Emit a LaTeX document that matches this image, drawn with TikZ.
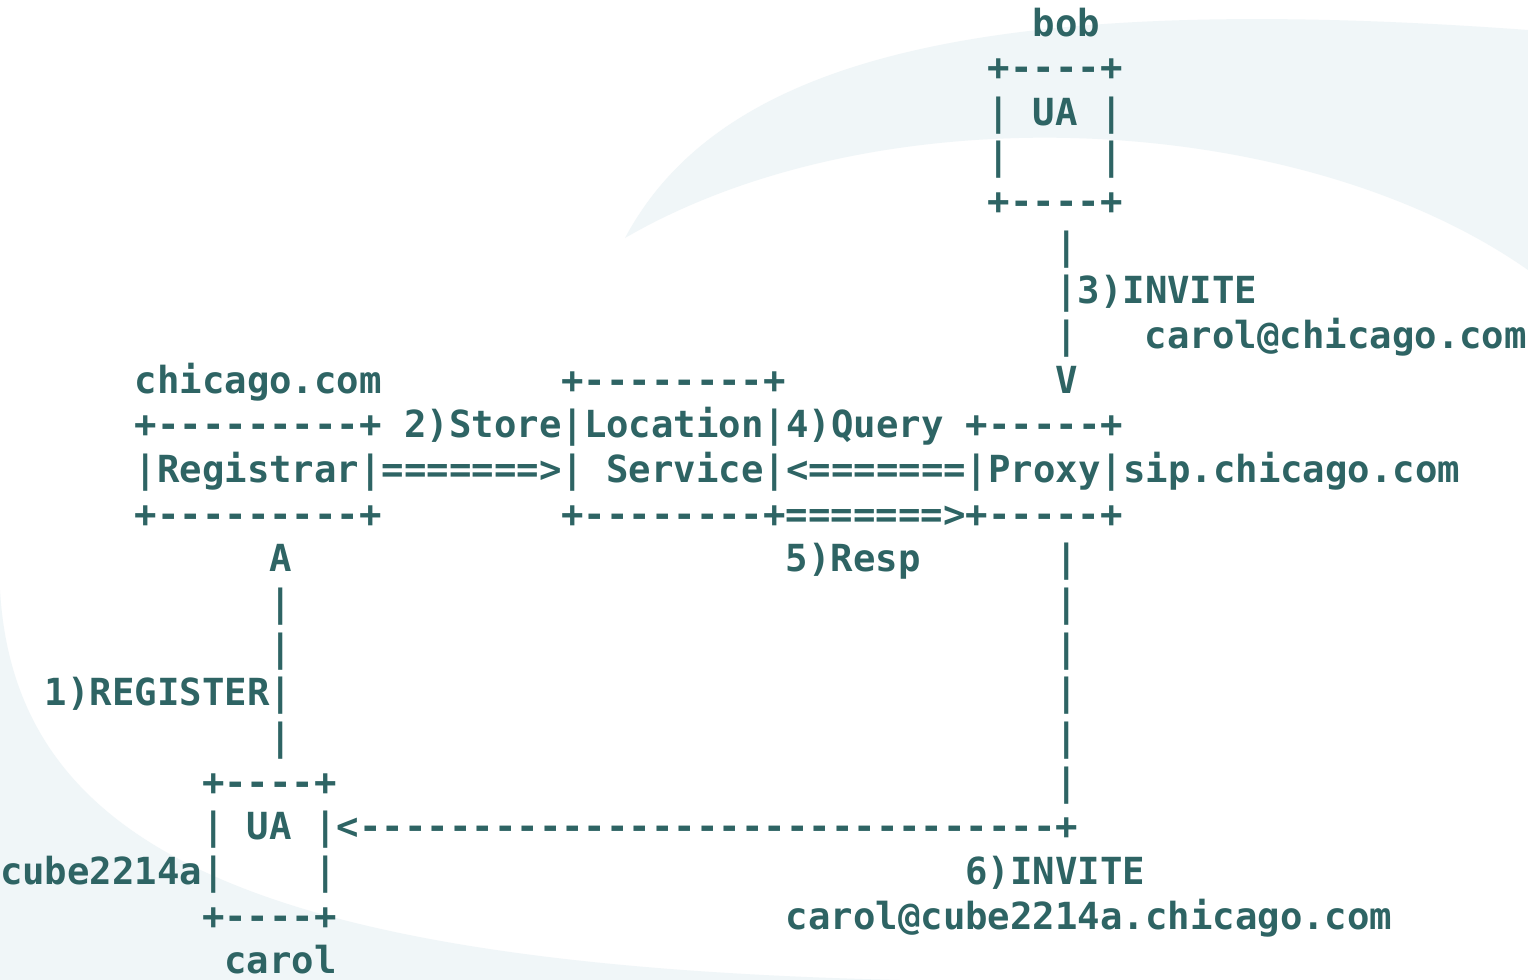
\documentclass[tikz,border=0pt]{standalone}
\usepackage{fontspec}
\setmonofont{DejaVu Sans Mono}
\definecolor{ink}{HTML}{2E6464}
\definecolor{swoosh}{HTML}{F0F6F8}

\begin{document}
\begin{tikzpicture}[x=0.5pt, y=-0.5pt,
    every node/.style={inner sep=0, outer sep=0, anchor=base west, text=ink,
      font=\ttfamily\bfseries\fontsize{18.66}{22}\selectfont}]
  \def\cw{22.45}  % one character cell
  \def\lh{44.65}  % one text line
  \def\base{36}
  \fill[white] (0,0) rectangle (1528,980);
  \useasboundingbox (0,0) rectangle (1528,980);
  % faint logo in the back
  \fill[swoosh] (625,238) .. controls (720,60) and (980,-10) .. (1528,30) -- (1528,270)
    .. controls (1300,110) and (880,90) .. cycle;
  \fill[swoosh] (0,590) .. controls (15,850) and (260,965) .. (900,980) -- (0,980) -- cycle;
  % the ascii chart, line by line
  \foreach \c/\r/\t in {46/0/bob, 44/1/+----+, 44/2/| UA |, 44/3/|, 49/3/|, 44/4/+----+,
      47/5/|, 47/6/|3)INVITE, 47/7/|, 51/7/carol@chicago.com,
      6/8/chicago.com, 25/8/+--------+, 47/8/V,
      6/9/+---------+ 2)Store|Location|4)Query +-----+,
      6/10/|Registrar|=======>| Service|<=======|Proxy|sip.chicago.com,
      6/11/+---------+, 25/11/+--------+=======>+-----+,
      12/12/A, 35/12/5)Resp, 47/12/|,
      12/13/|, 47/13/|, 12/14/|, 47/14/|,
      2/15/1)REGISTER|, 47/15/|, 12/16/|, 47/16/|,
      9/17/+----+, 47/17/|,
      9/18/| UA |<-------------------------------+,
      0/19/cube2214a|, 14/19/|, 43/19/6)INVITE,
      9/20/+----+, 35/20/carol@cube2214a.chicago.com,
      10/21/carol}
    \node (t-\r-\c) at ({\c*\cw},{\base+\r*\lh}) {\t};
\end{tikzpicture}
\end{document}
